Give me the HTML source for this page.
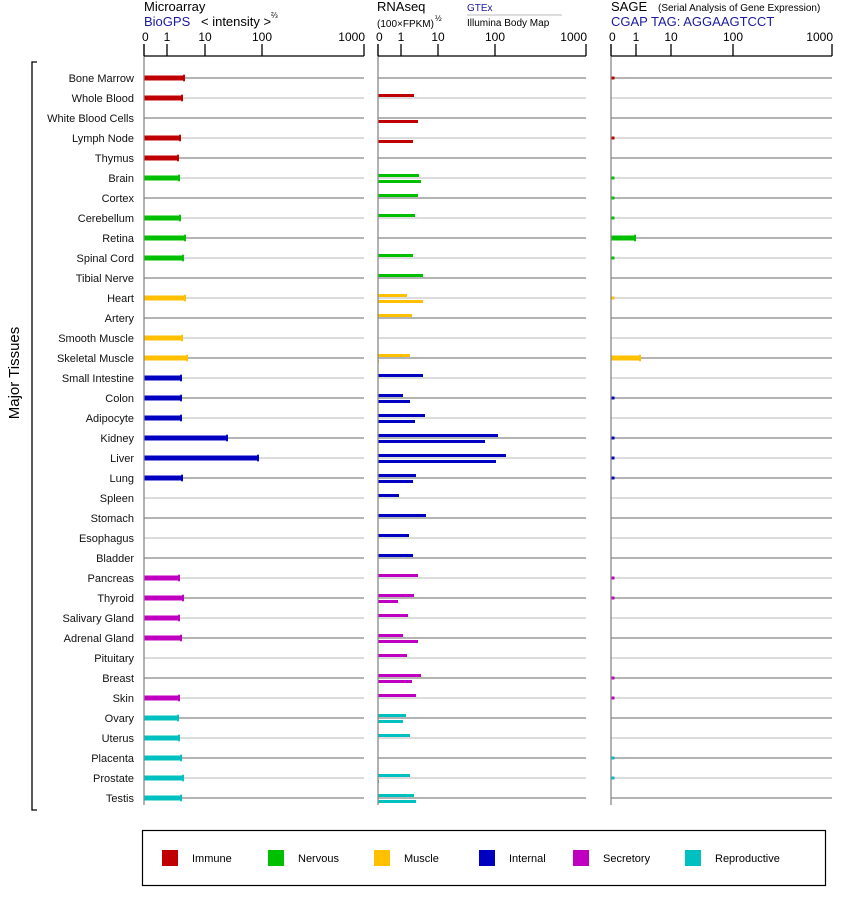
<!DOCTYPE html>
<html><head><meta charset="utf-8"><style>
body{margin:0;background:#fff;width:842px;height:900px;overflow:hidden}
svg{display:block;font-family:"Liberation Sans",Arial,sans-serif}
</style></head><body>
<svg id="s" width="842" height="900" xmlns="http://www.w3.org/2000/svg"></svg>
<script>
const C={I:"#c00000",N:"#00c000",M:"#ffc000",T:"#0000c0",S:"#c000c0",R:"#00c0c0"};
const rows=[
["Bone Marrow","I",184,null,null,1],["Whole Blood","I",182,414,null,0],["White Blood Cells","I",null,null,418,0],
["Lymph Node","I",180,null,413,1],["Thymus","I",178,null,null,0],
["Brain","N",179,419,421,1],["Cortex","N",null,418,null,1],["Cerebellum","N",180,415,null,1],["Retina","N",185,null,null,24],
["Spinal Cord","N",183,413,null,1],["Tibial Nerve","N",null,423,null,0],
["Heart","M",185,407,423,1],["Artery","M",null,412,null,0],["Smooth Muscle","M",182,null,null,0],["Skeletal Muscle","M",187,410,379,29],
["Small Intestine","T",181,423,null,0],["Colon","T",181,403,410,1],["Adipocyte","T",181,425,415,0],["Kidney","T",227,498,485,1],
["Liver","T",258,506,496,1],["Lung","T",182,416,413,1],["Spleen","T",null,399,null,0],["Stomach","T",null,426,null,0],
["Esophagus","T",null,409,null,0],["Bladder","T",null,413,null,0],
["Pancreas","S",179,418,null,1],["Thyroid","S",183,414,398,1],["Salivary Gland","S",179,408,null,0],["Adrenal Gland","S",181,403,418,0],
["Pituitary","S",null,407,null,0],["Breast","S",null,421,412,1],["Skin","S",179,416,null,1],
["Ovary","R",178,406,403,0],["Uterus","R",179,410,null,0],["Placenta","R",181,null,null,1],["Prostate","R",183,410,379,1],["Testis","R",181,414,416,0]];
let h='';
const panels=[[144,364,[[144,"0"],[167,"1"],[205,"10"],[262,"100"],[364,"1000"]]],[378,586,[[378,"0"],[401,"1"],[438,"10"],[495,"100"],[586,"1000"]]],[611,832,[[611,"0"],[636,"1"],[671,"10"],[733,"100"],[832,"1000"]]]];
rows.forEach((r,i)=>{const y=78+i*20;const col=i%2?"#c8c8c8":"#888";
 panels.forEach(p=>{h+=`<line x1="${p[0]}" y1="${y}" x2="${p[1]}" y2="${y}" stroke="${col}" stroke-width="1.3"/>`;});
 h+=`<text x="134" y="${y+4}" font-size="11" text-anchor="end" fill="#111">${r[0]}</text>`;
 const c=C[r[1]];
 if(r[2]){h+=`<rect x="144" y="${y-2.5}" width="${r[2]-144}" height="5" fill="${c}"/><rect x="${r[2]-1}" y="${y-3.5}" width="2" height="7" rx="1" fill="${c}"/>`;}
 if(r[3]){h+=`<rect x="378" y="${y-4}" width="${r[3]-378}" height="3" fill="${c}"/>`;}
 if(r[4]){h+=`<rect x="378" y="${y+2}" width="${r[4]-378}" height="3" fill="${c}"/>`;}
 if(r[5]){ if(r[5]>2){h+=`<rect x="611" y="${y-2.5}" width="${r[5]}" height="5" fill="${c}"/><rect x="${611+r[5]-1}" y="${y-3.5}" width="2" height="7" rx="1" fill="${c}"/>`;}
  else {h+=`<rect x="611.5" y="${y-1.5}" width="3" height="3" fill="${c}"/>`;}}
});
panels.forEach(p=>{
 h+=`<line x1="${p[0]}" y1="44" x2="${p[0]}" y2="805" stroke="#888" stroke-width="1.3"/>`;
 h+=`<line x1="${p[0]}" y1="56" x2="${p[1]}" y2="56" stroke="#000" stroke-width="1.3"/>`;
 p[2].forEach((t,k)=>{h+=`<line x1="${t[0]}" y1="44" x2="${t[0]}" y2="56" stroke="#000" stroke-width="1.3"/>`;
  let a=k==0?"start":(k==4?"end":"middle");let x=k==0?t[0]-2:(k==4?t[0]+1:t[0]);
  h+=`<text x="${x}" y="41" font-size="12" text-anchor="${a}">${t[1]}</text>`;});
});
h+=`<text x="144" y="11" font-size="13">Microarray</text><text x="144" y="26" font-size="13" fill="#1a1aa0">BioGPS</text><text x="201" y="26" font-size="13">&lt; intensity &gt;</text><text x="271" y="18" font-size="8">⅔</text>`;
h+=`<text x="377" y="11" font-size="13">RNAseq</text><text x="377" y="27" font-size="10">(100×FPKM)</text><text x="435" y="21" font-size="8">½</text>`;
h+=`<text x="467" y="11" font-size="10" fill="#1a1aa0">GTEx</text><line x1="467" y1="15" x2="562" y2="15" stroke="#bbb"/><text x="467" y="26" font-size="10">Illumina Body Map</text>`;
h+=`<text x="611" y="11" font-size="13">SAGE</text><text x="658" y="11" font-size="10">(Serial Analysis of Gene Expression)</text><text x="611" y="26" font-size="13" fill="#1a1aa0">CGAP TAG: AGGAAGTCCT</text>`;
h+=`<path d="M37 62 H32 V810 H37" fill="none" stroke="#000" stroke-width="1.3"/>`;
h+=`<text transform="translate(19,373) rotate(-90)" font-size="15" text-anchor="middle">Major Tissues</text>`;
h+=`<rect x="142.5" y="830.5" width="683" height="55" fill="none" stroke="#000" stroke-width="1.2"/>`;
const lg=[["Immune","I",162],["Nervous","N",268],["Muscle","M",374],["Internal","T",479],["Secretory","S",573],["Reproductive","R",685]];
lg.forEach(l=>{h+=`<rect x="${l[2]}" y="850" width="16" height="16" fill="${C[l[1]]}"/><text x="${l[2]+30}" y="862" font-size="11">${l[0]}</text>`;});
document.getElementById('s').innerHTML=h;
</script>
</body></html>
